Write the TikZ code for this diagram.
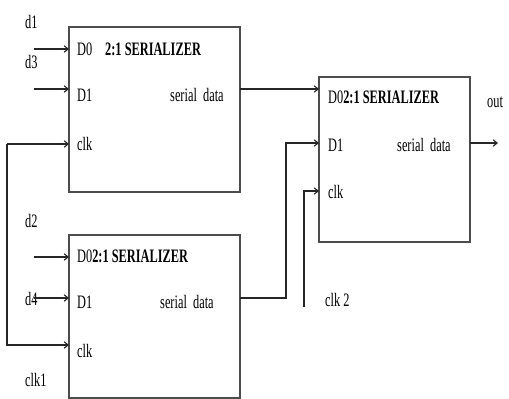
\documentclass[tikz,border=0pt]{standalone}
\usepackage{fontspec}
\setmainfont{Liberation Serif}
\newfontfamily\narrowserif[FakeStretch=0.65]{Liberation Serif}
\usetikzlibrary{positioning,arrows.meta}

\tikzset{
  serbox/.style={draw=black!70, line width=1.3pt, inner sep=0pt, outer sep=0pt},
  wire/.style={draw=black!85, line width=1.1pt},
  arr/.style={wire, -{Straight Barb[length=4pt,width=6.5pt]}},
  lbl/.style={anchor=base west, inner sep=0pt, font=\narrowserif\fontsize{19}{19}\selectfont},
  blbl/.style={lbl, font=\narrowserif\bfseries\fontsize{19}{19}\selectfont}
}

\begin{document}
\begin{tikzpicture}[x=1pt,y=-1pt]
            \useasboundingbox (0,0) rectangle (509,399);
            % the three serializers
            \node [serbox, minimum width=171pt, minimum height=165pt] (ser1) at (154.5,109.5) {};
            \node [serbox, minimum width=171pt, minimum height=163pt] (ser2) at (154.5,316.5) {};
            \node [serbox, minimum width=151pt, minimum height=165pt] (ser3) at (394.5,159.5) {};
            % ports
            \coordinate (s1d0) at (ser1.west |- 0,49);
            \coordinate (s1d1) at (ser1.west |- 0,89);
            \coordinate (s1clk) at (ser1.west |- 0,144);
            \coordinate (s1out) at (ser1.east |- 0,89);
            \coordinate (s2d0) at (ser2.west |- 0,257);
            \coordinate (s2d1) at (ser2.west |- 0,298);
            \coordinate (s2clk) at (ser2.west |- 0,345);
            \coordinate (s2out) at (ser2.east |- 0,298);
            \coordinate (s3d0) at (ser3.west |- 0,89);
            \coordinate (s3d1) at (ser3.west |- 0,143);
            \coordinate (s3clk) at (ser3.west |- 0,191);
            \coordinate (s3out) at (ser3.east |- 0,143);
            % free ends
            \coordinate (in1) at (34,49);
            \coordinate (in3) at (34,89);
            \coordinate (in2) at (34,257);
            \coordinate (in4) at (34,298);
            \coordinate (clkbus) at (7,144);
            \coordinate (bend) at (286,143);
            \coordinate (clkb) at (304,307);
            \coordinate (outend) at (498,143);
            % texts in the boxes
            \node [lbl] (t1d0) at (77,55) {D0};
            \node [blbl] (t1name) at (105,55) {2:1 SERIALIZER};
            \node [lbl] (t1d1) at (77,101) {D1};
            \node [lbl] (t1out) at (170,101) {serial\ \ data};
            \node [lbl] (t1clk) at (77,150) {clk};
            \node [lbl] (t2d0) at (77,262) {D0\textbf{2:1 SERIALIZER}};
            \node [lbl] (t2d1) at (77,308) {D1};
            \node [lbl] (t2out) at (160,308) {serial\ \ data};
            \node [lbl] (t2clk) at (77,357) {clk};
            \node [lbl] (t3d0) at (328,103) {D0\textbf{2:1 SERIALIZER}};
            \node [lbl] (t3d1) at (328,151) {D1};
            \node [lbl] (t3out) at (397,151) {serial\ \ data};
            \node [lbl] (t3clk) at (328,198) {clk};
            % texts outside
            \node [lbl] (nd1) at (25,28) {d1};
            \node [lbl] (nd3) at (25,68) {d3};
            \node [lbl] (nd2) at (25,227) {d2};
            \node [lbl] (nd4) at (25,305) {d4};
            \node [lbl] (nclk1) at (25,386) {clk1};
            \node [lbl] (nclk2) at (325,306) {clk 2};
            \node [lbl] (nout) at (487,107) {out};
            % wires
            \draw [arr] (in1) -- (s1d0);
            \draw [arr] (in3) -- (s1d1);
            \draw [arr] (in2) -- (s2d0);
            \draw [arr] (in4) -- (s2d1);
            \draw [arr] (clkbus) -- (s1clk);
            \draw [arr] (clkbus) |- (s2clk);
            \draw [arr] (s1out) -- (s3d0);
            \draw [arr] (s2out) -| (bend) -- (s3d1);
            \draw [arr] (clkb) |- (s3clk);
            \draw [arr] (s3out) -- (outend);
\end{tikzpicture}
\end{document}
